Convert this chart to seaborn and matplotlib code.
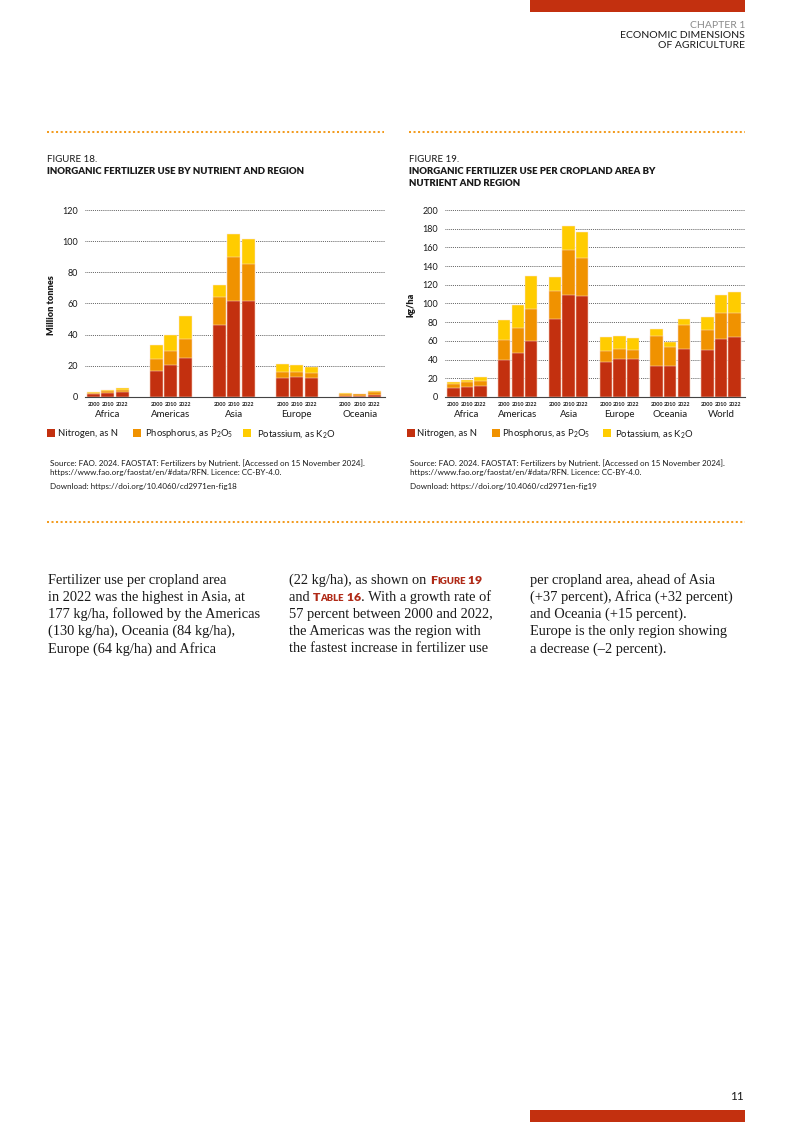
import matplotlib
matplotlib.use("Agg")
import matplotlib.pyplot as plt
import seaborn as sns
import pandas as pd
from matplotlib.lines import Line2D
from matplotlib.patches import Rectangle

W, H = 793, 1122
RED = "#C3300F"
ORANGE = "#F09200"
YELLOW = "#FFCC00"
DOTS = "#F39C1F"
INK = "#1a1a1a"

years = ["2000", "2010", "2022"]

# Figure 18: million tonnes
regions18 = ["Africa", "Americas", "Asia", "Europe", "Oceania"]
n18 = [[1.8, 2.8, 3.5], [16.9, 20.4, 25.3], [45.9, 61.9, 61.9], [12.2, 12.9, 12.4], [0.9, 0.8, 1.6]]
p18 = [[0.8, 0.9, 1.1], [7.7, 9.4, 12.2], [18.0, 27.7, 23.2], [4.1, 3.4, 3.2], [1.3, 0.9, 1.5]]
k18 = [[0.5, 0.8, 1.3], [8.6, 9.8, 14.4], [7.9, 15.0, 16.5], [5.1, 4.3, 3.7], [0.3, 0.2, 0.5]]

# Figure 19: kg/ha
regions19 = ["Africa", "Americas", "Asia", "Europe", "Oceania", "World"]
n19 = [[9.3, 11.1, 12.1], [39.6, 47.5, 60.0], [82.9, 108.6, 107.5], [37.9, 41.1, 41.1], [33.6, 32.9, 51.8], [50.7, 62.5, 64.6]]
p19 = [[4.3, 5.0, 5.0], [21.5, 26.4, 33.6], [31.0, 48.2, 40.7], [11.7, 10.7, 9.3], [31.4, 20.3, 25.3], [20.7, 27.5, 25.4]]
k19 = [[2.1, 2.1, 4.0], [21.4, 24.0, 36.0], [14.0, 26.4, 28.2], [14.7, 13.6, 12.8], [7.9, 6.1, 6.5], [14.0, 18.9, 22.5]]

legend_labels = ["Nitrogen, as N", "Phosphorus, as P$_2$O$_5$", "Potassium, as K$_2$O"]

sns.set_theme(style="white")
plt.rcParams["font.family"] = ["Lato", "DejaVu Sans"]
plt.rcParams["mathtext.fontset"] = "custom"
plt.rcParams["mathtext.rm"] = "Lato"
plt.rcParams["mathtext.it"] = "Lato:italic"
plt.rcParams["mathtext.bf"] = "Lato:bold"

fig = plt.figure(figsize=(W / 100, H / 100), dpi=100)


def fx(x):
    return x / W


def fy(y):
    return 1 - y / H


def ftext(x, y, s, **kw):
    kw.setdefault("va", "center")
    kw.setdefault("ha", "left")
    kw.setdefault("color", INK)
    return fig.text(fx(x), fy(y), s, **kw)


def dotted(x0, x1, y):
    fig.add_artist(Line2D([fx(x0), fx(x1)], [fy(y), fy(y)], color=DOTS, lw=1.45,
                          ls=(0, (1, 1.25)), solid_capstyle="butt", dash_capstyle="butt"))


def stacked(ax, regions, n, p, k, width, gap, ymax, step):
    rows = []
    for i, r in enumerate(regions):
        for j, yr in enumerate(years):
            rows.append(dict(region=r, year=yr, n=n[i][j],
                             np=n[i][j] + p[i][j],
                             tot=n[i][j] + p[i][j] + k[i][j]))
    df = pd.DataFrame(rows)
    for col, c in [("tot", YELLOW), ("np", ORANGE), ("n", RED)]:
        sns.barplot(data=df, x="region", y=col, hue="year", order=regions, hue_order=years,
                    palette={yr: c for yr in years}, width=width, gap=gap, saturation=1,
                    legend=False, errorbar=None, edgecolor="#fbe3d6", linewidth=0.35, ax=ax)
    ax.set_xlabel("")
    ax.set_ylabel("")
    ax.set_ylim(0, ymax)
    ax.set_yticks(range(0, ymax + 1, step))
    ax.tick_params(axis="y", length=0, pad=5, labelsize=6.5, labelcolor=INK)
    ax.set_xticks([])
    ax.grid(axis="y", ls=(0, (1, 1.3)), color="#333333", lw=0.6)
    ax.grid(axis="x", visible=False)
    ax.set_axisbelow(True)
    for s in ["left", "right", "top"]:
        ax.spines[s].set_visible(False)
    ax.spines["bottom"].set_color("#444444")
    ax.spines["bottom"].set_linewidth(0.8)
    tr = ax.get_xaxis_transform()
    for i, r in enumerate(regions):
        for j, yr in enumerate(years):
            ax.text(i + (j - 1) * width / 3, -0.038, yr, transform=tr, ha="center", va="center",
                    fontsize=3.9, fontweight="bold", color=INK)
        ax.text(i, -0.092, r, transform=tr, ha="center", va="center", fontsize=7.0, color=INK)


# ---- header / footer
fig.add_artist(Rectangle((fx(530), fy(11.5)), fx(745) - fx(530), 11.5 / H, color=RED, lw=0))
ftext(745, 25, "CHAPTER 1", ha="right", fontsize=7.5, color="#8a8a8a")
ftext(745, 35.7, "ECONOMIC DIMENSIONS", ha="right", fontsize=7.5)
ftext(745, 45.7, "OF AGRICULTURE", ha="right", fontsize=7.5)
fig.add_artist(Rectangle((fx(530), 0), fx(745) - fx(530), 12 / H, color=RED, lw=0))
ftext(744, 1097, "11", ha="right", fontsize=8.5)

dotted(47, 384, 131.7)
dotted(409, 745, 131.7)
dotted(47, 745, 522)

# ---- figure 18
TITLE = dict(fontsize=6.95, fontweight="heavy")
ftext(47, 160, "FIGURE 18.", fontsize=7.0)
ftext(47, 171.7, "INORGANIC FERTILIZER USE BY NUTRIENT AND REGION", **TITLE)
ax1 = fig.add_axes([fx(85), fy(397), 300 / W, 187 / H])
stacked(ax1, regions18, n18, p18, k18, 0.68, 0.09, 120, 20)
ax1.set_xlim(-0.365, 4.40)
ftext(52, 305, "Million tonnes", rotation=90, ha="center", fontsize=6.6, fontweight="heavy")

# ---- figure 19
ftext(409, 160, "FIGURE 19.", fontsize=7.0)
ftext(409, 171.7, "INORGANIC FERTILIZER USE PER CROPLAND AREA BY", **TITLE)
ftext(409, 183.3, "NUTRIENT AND REGION", **TITLE)
ax2 = fig.add_axes([fx(445), fy(397), 300 / W, 187 / H])
stacked(ax2, regions19, n19, p19, k19, 0.80, 0.085, 200, 20)
ax2.set_xlim(-0.43, 5.47)
ftext(411, 305, "kg/ha", rotation=90, ha="center", fontsize=6.6, fontweight="heavy")

# ---- legends
colors = [RED, ORANGE, YELLOW]
for sq_x, tx_x in [([47, 133, 243], [58, 145, 257]), ([407, 492, 603], [417, 502, 615])]:
    for c, sx, tx, lab in zip(colors, sq_x, tx_x, legend_labels):
        fig.add_artist(Rectangle((fx(sx), fy(437)), 8 / W, 7.5 / H, color=c, lw=0))
        ftext(tx, 433.5, lab, fontsize=6.8)

# ---- sources
for x0, fig_no in [(50, "18"), (410, "19")]:
    ftext(x0, 462.7, "Source: FAO. 2024. FAOSTAT: Fertilizers by Nutrient. [Accessed on 15 November 2024].",
          fontsize=5.75)
    ftext(x0, 472.7, "https://www.fao.org/faostat/en/#data/RFN. Licence: CC-BY-4.0.", fontsize=5.75)
    ftext(x0, 486.7, "Download: https://doi.org/10.4060/cd2971en-fig" + fig_no, fontsize=5.75)

# ---- body text
SERIF = dict(fontsize=10.4, family=["Liberation Serif", "DejaVu Serif"], color=INK)
CAP = dict(color="#B02A17", fontweight="heavy", family=["Lato", "DejaVu Sans"])
renderer = fig.canvas.get_renderer()


def run(x, y, parts):
    for s, kw in parts:
        t = fig.text(fx(x), fy(y), s, va="baseline", ha="left", **kw)
        x = t.get_window_extent(renderer=renderer).x1


col1 = ["Fertilizer use per cropland area",
        "in 2022 was the highest in Asia, at",
        "177 kg/ha, followed by the Americas",
        "(130 kg/ha), Oceania (84 kg/ha),",
        "Europe (64 kg/ha) and Africa"]
col3 = ["per cropland area, ahead of Asia",
        "(+37 percent), Africa (+32 percent)",
        "and Oceania (+15 percent).",
        "Europe is the only region showing",
        "a decrease (\u20132 percent)."]
col2 = [[("(22 kg/ha), as shown on ", SERIF), ("F", dict(CAP, fontsize=8.8)),
         ("IGURE", dict(CAP, fontsize=6.8)), (" 19", dict(CAP, fontsize=8.8))],
        [("and ", SERIF), ("T", dict(CAP, fontsize=8.8)), ("ABLE", dict(CAP, fontsize=6.8)),
         (" 16", dict(CAP, fontsize=8.8)), (". With a growth rate of", SERIF)],
        [("57 percent between 2000 and 2022,", SERIF)],
        [("the Americas was the region with", SERIF)],
        [("the fastest increase in fertilizer use", SERIF)]]

for i in range(5):
    yb = 584 + i * 17.1
    fig.text(fx(48), fy(yb), col1[i], va="baseline", ha="left", **SERIF)
    run(289, yb, col2[i])
    fig.text(fx(530), fy(yb), col3[i], va="baseline", ha="left", **SERIF)

fig.savefig("out.png", dpi=100)
